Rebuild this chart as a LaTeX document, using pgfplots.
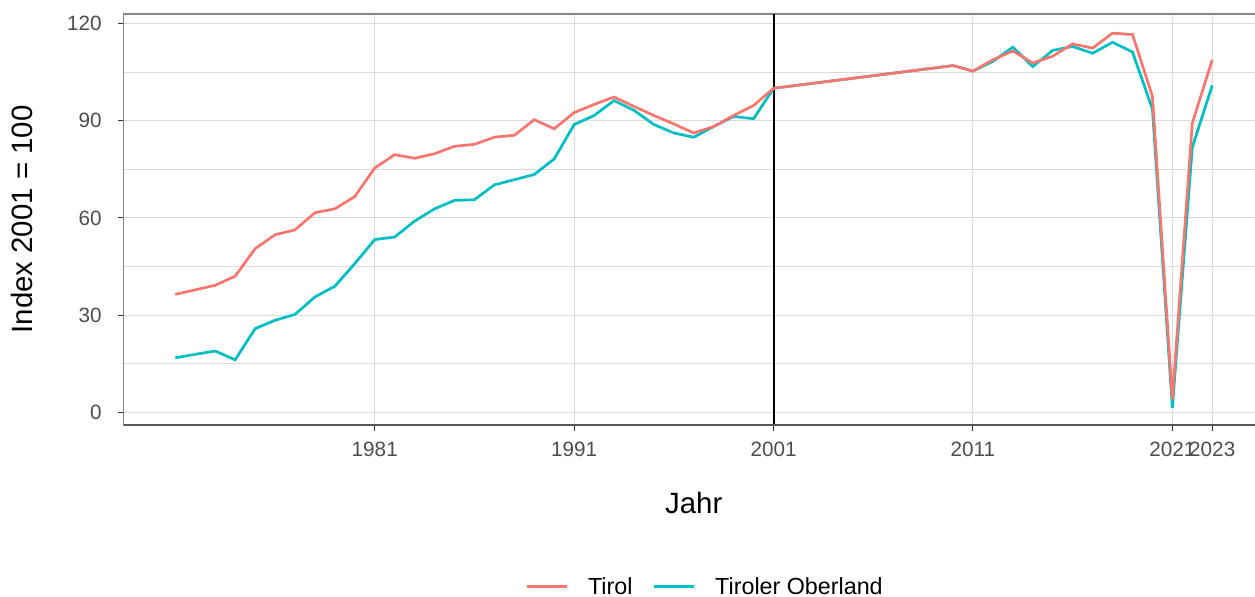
\documentclass[border=0pt]{standalone}
\usepackage{fontspec}
\setmainfont{Liberation Sans}
\usepackage{pgfplots}
\pgfplotsset{compat=1.18}
\definecolor{tirol}{HTML}{F8766D}
\definecolor{oberland}{HTML}{00BFC4}
\definecolor{gridc}{HTML}{DBDBDB}
\definecolor{borderc}{HTML}{858585}
\definecolor{bottomc}{HTML}{555555}
\definecolor{tickc}{HTML}{333333}
\definecolor{labc}{HTML}{4D4D4D}
\begin{document}
\begin{tikzpicture}
\useasboundingbox (0,0) rectangle (627.5pt,298.5pt);
\begin{axis}[
  name=a,
  at={(61.75pt,86pt)}, anchor=south west,
  scale only axis, width=570.3pt, height=205.5pt,
  xmin=1968.4, xmax=2025.6, ymin=-3.92, ymax=122.93,
  xtick={1981,1991,2001,2011,2021,2023},
  ytick={0,30,60,90,120},
  minor ytick={15,45,75,105},
  xmajorgrids=true, ymajorgrids=true, yminorgrids=true,
  major grid style={draw=gridc, line width=0.5pt},
  minor grid style={draw=gridc, line width=0.5pt},
  axis line style={draw=borderc, line width=0.6pt},
  tick align=outside, xtick pos=bottom, ytick pos=left,
  major tick length=3pt, minor tick length=0pt,
  tick style={draw=tickc, line width=0.5pt},
  /pgf/number format/assume math mode=true,
  /pgf/number format/1000 sep={},
  ticklabel style={font=\fontsize{10.35pt}{12pt}\selectfont, text=labc, inner sep=0pt},
  yticklabel style={anchor=east, xshift=-7.75pt},
  xticklabel style={anchor=north, yshift=-5.3pt},
  xlabel={Jahr}, ylabel={Index 2001 = 100},
  xlabel style={at={(axis description cs:0.5,-0.1886)}, anchor=center, font=\fontsize{14.7pt}{17pt}\selectfont, inner sep=0pt},
  ylabel style={at={(axis description cs:-0.089,0.5)}, anchor=center, rotate=0, font=\fontsize{14.7pt}{17pt}\selectfont, inner sep=0pt},
  legend columns=2,
  legend style={at={(axis description cs:0.509,-0.3966)}, anchor=center, draw=none, fill=none,
    font=\fontsize{11.65pt}{14pt}\selectfont, column sep=10pt, nodes={inner sep=0pt}},
  legend image code/.code={\draw[#1] (0pt,0.6pt) -- (20pt,0.6pt);},
]
\addplot[black, line width=1pt, forget plot] coordinates {(2001,-3.92) (2001,122.93)};
\addplot[oberland, line width=1.35pt, forget plot] coordinates {
(1971,16.8) (1972,17.9) (1973,18.9) (1974,16.2) (1975,25.8) (1976,28.4) (1977,30.2) (1978,35.6) (1979,38.9) (1980,45.9)
(1981,53.3) (1982,54.1) (1983,59.0) (1984,62.8) (1985,65.4) (1986,65.6) (1987,70.2) (1988,71.8) (1989,73.4) (1990,78.2)
(1991,88.8) (1992,91.6) (1993,96.2) (1994,93.2) (1995,88.8) (1996,86.2) (1997,84.9) (1998,88.2) (1999,91.3) (2000,90.6)
(2001,100) (2010,107.0) (2011,105.3) (2012,108.3) (2013,112.7) (2014,106.7) (2015,111.7) (2016,112.9) (2017,110.8)
(2018,114.2) (2019,111.2) (2020,93.6) (2021,1.4) (2022,81.8) (2023,100.9)};
\addplot[tirol, line width=1.35pt, forget plot] coordinates {
(1971,36.4) (1972,37.8) (1973,39.2) (1974,42.0) (1975,50.5) (1976,54.8) (1977,56.3) (1978,61.6) (1979,62.8) (1980,66.6)
(1981,75.4) (1982,79.5) (1983,78.4) (1984,79.8) (1985,82.1) (1986,82.7) (1987,84.9) (1988,85.5) (1989,90.3) (1990,87.5)
(1991,92.5) (1992,95.0) (1993,97.3) (1994,94.4) (1995,91.6) (1996,89.0) (1997,86.2) (1998,88.2) (1999,91.6) (2000,94.7)
(2001,100) (2010,107.0) (2011,105.3) (2012,108.8) (2013,111.5) (2014,107.8) (2015,109.9) (2016,113.7) (2017,112.4)
(2018,117.0) (2019,116.6) (2020,97.5) (2021,4.0) (2022,89.2) (2023,108.8)};
\addlegendimage{tirol, line width=1.35pt}
\addlegendentry{Tirol}
\addlegendimage{oberland, line width=1.35pt}
\addlegendentry{Tiroler Oberland}
\end{axis}
\draw[bottomc, line width=1pt] (a.south west) -- (a.south east);
\end{tikzpicture}
\end{document}
